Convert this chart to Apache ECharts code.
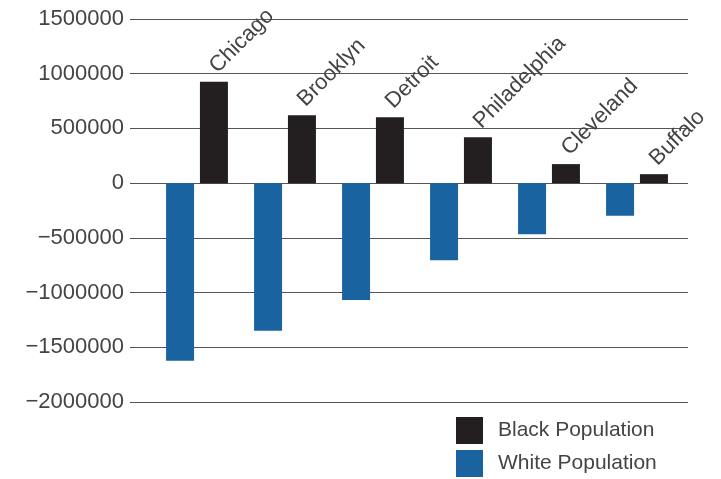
<!DOCTYPE html>
<html>
<head>
<meta charset="utf-8">
<script src="https://cdn.jsdelivr.net/npm/echarts@6/dist/echarts.min.js"></script>
<style>
  html, body { margin: 0; padding: 0; background: #fff; }
  #chart { width: 721px; height: 479px; }
</style>
</head>
<body>
<div id="chart"></div>
<script>
// city data
var cities = ['Chicago', 'Brooklyn', 'Detroit', 'Philadelphia', 'Cleveland', 'Buffalo']
var blackPopulation = [926000, 621000, 603000, 420000, 174000, 82000]
var whitePopulation = [-1624000, -1350000, -1069000, -704000, -466000, -299000]
var yMin = -2000000
var yMax = 1500000
var yStep = 500000

var fontFamily = '"Liberation Sans", Arial, sans-serif'

var legendText = { color: '#444', fontSize: 21, fontFamily: fontFamily, padding: [0, 0, 0, 10] }

var myChart = echarts.init(document.getElementById('chart'))
var option = {
  animation: false,
  // one legend per row so they stack
  legend: [
    {
      data: ['Black Population'],
      left: 451, top: 412,
      itemWidth: 27, itemHeight: 27,
      icon: 'rect',
      textStyle: legendText
    },
    {
      data: ['White Population'],
      left: 451, top: 445,
      itemWidth: 27, itemHeight: 27,
      icon: 'rect',
      textStyle: legendText
    }
  ],
  grid: [
    // wide grid only for the split lines and y labels
    { left: 130, right: 33, top: 19, bottom: 77 },
    // narrower grid holding the bars
    { left: 153, right: 40, top: 19, bottom: 77 }
  ],
  xAxis: [
    { type: 'category', gridIndex: 0, data: cities, show: false },
    { type: 'category', gridIndex: 1, data: cities, show: false }
  ],
  yAxis: [
    {
      type: 'value',
      gridIndex: 0,
      min: yMin,
      max: yMax,
      interval: yStep,
      axisLine: { show: false },
      axisTick: { show: false },
      splitLine: { lineStyle: { color: '#555', width: 1 } },
      axisLabel: {
        color: '#444',
        fontSize: 22,
        fontFamily: fontFamily,
        margin: 6,
        formatter: function (v) { return String(v).replace('-', '\u2212') }
      }
    },
    {
      type: 'value',
      gridIndex: 1,
      min: yMin,
      max: yMax,
      interval: yStep,
      show: false
    }
  ],
  series: [
    {
      name: 'White Population',
      type: 'bar',
      xAxisIndex: 1,
      yAxisIndex: 1,
      data: whitePopulation,
      barWidth: 28,
      barGap: '21%',
      itemStyle: { color: '#1a63a1' }
    },
    {
      name: 'Black Population',
      type: 'bar',
      xAxisIndex: 1,
      yAxisIndex: 1,
      data: blackPopulation,
      barWidth: 28,
      barGap: '21%',
      itemStyle: { color: '#231f20' },
      label: {
        show: true,
        position: 'top',
        distance: 13,
        rotate: 45,
        align: 'left',
        verticalAlign: 'middle',
        color: '#444',
        fontSize: 22,
        fontFamily: fontFamily,
        offset: [-1, 0],
        formatter: function (p) { return p.name }
      }
    }
  ]
}
myChart.setOption(option)
</script>
</body>
</html>
